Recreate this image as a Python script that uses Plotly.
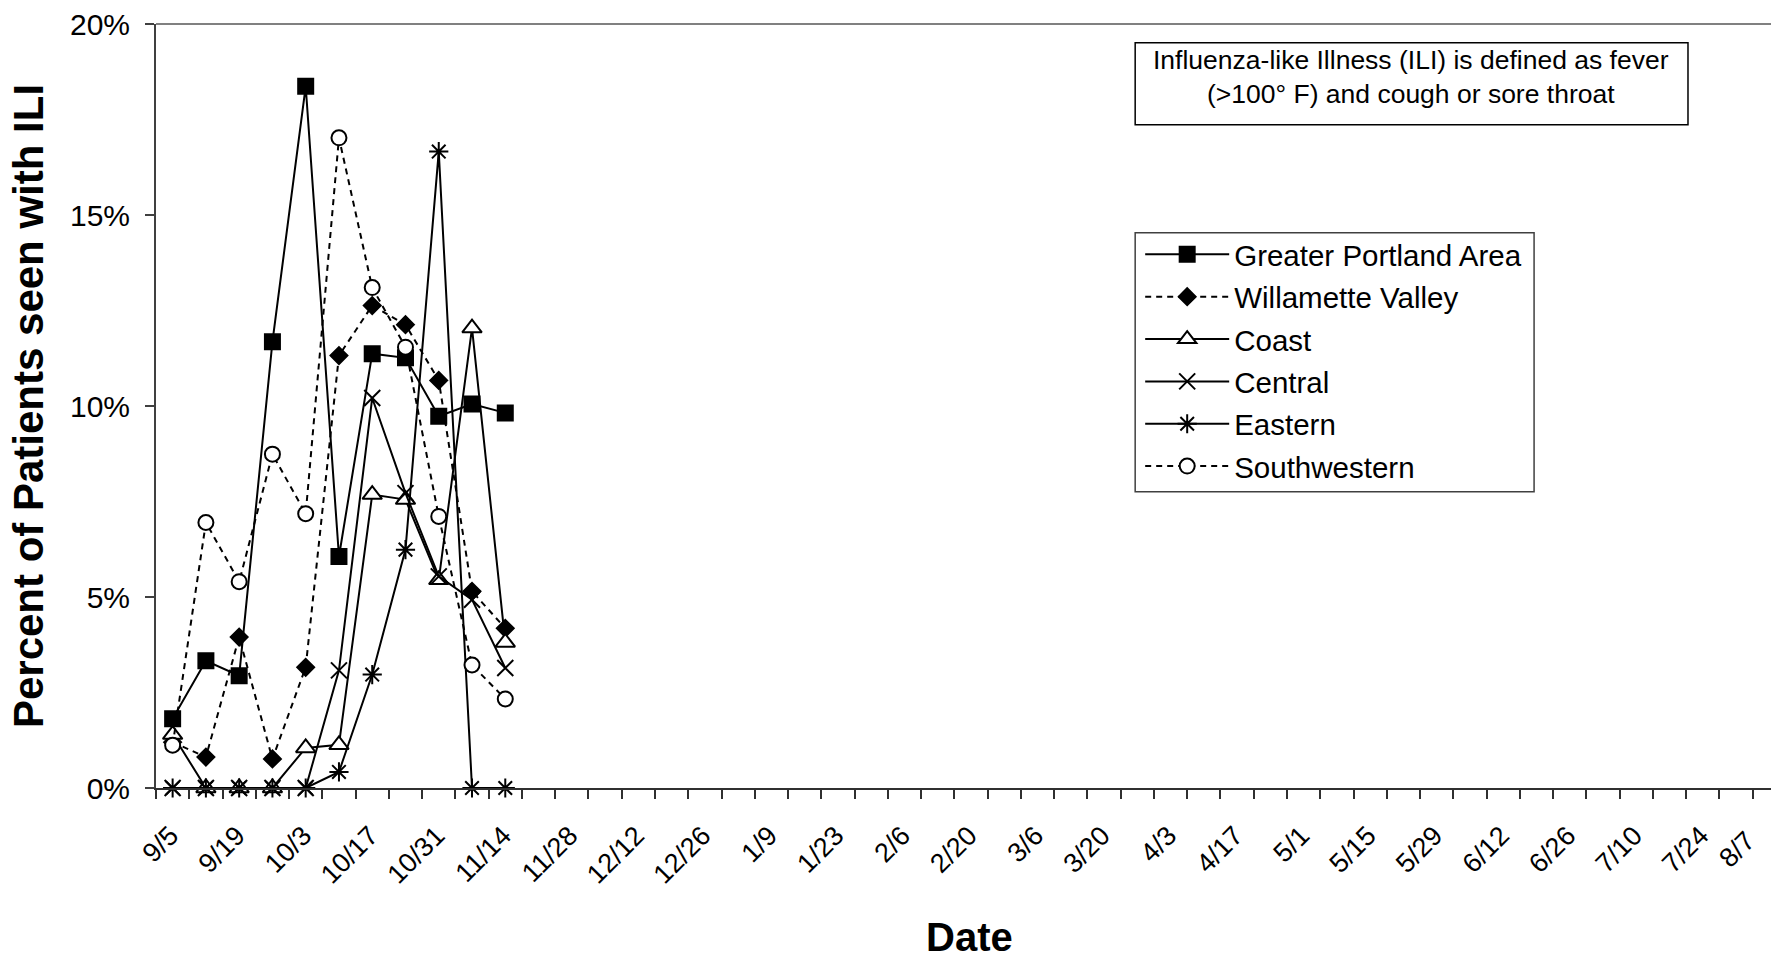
import plotly.graph_objects as go

# Weekly report dates (season axis) and observed values (% of patients with ILI)
weeks = ["9/5", "9/12", "9/19", "9/26", "10/3", "10/10", "10/17", "10/24", "10/31",
         "11/7", "11/14", "11/21", "11/28", "12/5", "12/12", "12/19", "12/26", "1/2",
         "1/9", "1/16", "1/23", "1/30", "2/6", "2/13", "2/20", "2/27", "3/6", "3/13",
         "3/20", "3/27", "4/3", "4/10", "4/17", "4/24", "5/1", "5/8", "5/15", "5/22",
         "5/29", "6/5", "6/12", "6/19", "6/26", "7/3", "7/10", "7/17", "7/24", "7/31",
         "8/7"]
tick_labels = weeks[::2]
y_ticks = [0, 5, 10, 15, 20]
y_tick_labels = ["0%", "5%", "10%", "15%", "20%"]

portland     = [1.81, 3.33, 2.94, 11.68, 18.37, 6.06, 11.37, 11.26, 9.73, 10.05, 9.82]
willamette   = [1.20, 0.81, 3.95, 0.76, 3.16, 11.32, 12.63, 12.13, 10.67, 5.15, 4.18]
coast        = [1.40, 0.00, 0.00, 0.00, 1.05, 1.13, 7.68, 7.55, 5.45, 12.04, 3.81]
central      = [0.00, 0.00, 0.00, 0.00, 0.00, 3.08, 10.21, 7.72, 5.54, 4.93, 3.14]
eastern      = [0.00, 0.00, 0.00, 0.00, 0.00, 0.42, 2.97, 6.24, 16.66, 0.00, 0.00]
southwestern = [1.12, 6.95, 5.40, 8.74, 7.18, 17.02, 13.10, 11.54, 7.11, 3.22, 2.33]

# name, values, symbol, fill, dash, size
series = [
    ("Greater Portland Area", portland, "square", "black", "solid", 15),
    ("Willamette Valley", willamette, "diamond", "black", "6px,5px", 13),
    ("Coast", coast, "triangle-up", "white", "solid", 17),
    ("Central", central, "x-thin-open", "black", "solid", 16),
    ("Eastern", eastern, "asterisk-open", "black", "solid", 16),
    ("Southwestern", southwestern, "circle", "white", "6px,5px", 15),
]

FONT = "Liberation Sans, Arial, sans-serif"

fig = go.Figure()
for name, vals, sym, fill, dash, size in series:
    xs = [weeks.index(w) for w in weeks[:len(vals)]]
    fig.add_trace(go.Scatter(
        x=xs, y=vals, name=name, legendgroup=name, mode="lines+markers",
        line=dict(color="black", width=2, dash=dash),
        marker=dict(symbol=sym, size=size, color=fill,
                    line=dict(color="black", width=2)),
        cliponaxis=False,
    ))

# the last date label is pulled inside the chart edge (as in the original), so it is
# drawn as a rotated label attached to its category on the x axis
x_tickvals = list(range(0, len(weeks), 2))
x_ticktext = tick_labels[:-1] + [""]

fig.update_layout(
    width=1771, height=964,
    margin=dict(l=156, r=0, t=24, b=176),
    paper_bgcolor="white", plot_bgcolor="white",
    font=dict(family=FONT, color="black", size=29),
    showlegend=True,
    legend=dict(
        x=0.6094, y=0.7321, xanchor="left", yanchor="top",
        borderwidth=0, bgcolor="rgba(0,0,0,0)",
        font=dict(family=FONT, size=29.5, color="black"),
        itemwidth=84, traceorder="grouped", tracegroupgap=1,
    ),
    xaxis=dict(
        range=[-0.5, 48.05], showgrid=False, zeroline=False, automargin=False,
        showline=True, linecolor="#303030", linewidth=2,
        tickmode="array", tickvals=x_tickvals, ticktext=x_ticktext,
        tickangle=-45, ticks="outside", ticklen=9, tickcolor="rgba(0,0,0,0)",
        ticklabeloverflow="allow", ticklabelshift=-2, ticklabelstandoff=10,
        tickfont=dict(family=FONT, size=27, color="black"),
        minor=dict(tickmode="linear", tick0=-0.5, dtick=1, ticks="outside",
                   ticklen=9, tickcolor="#303030", tickwidth=1.5, showgrid=False),
    ),
    yaxis=dict(
        range=[0, 20], showgrid=False, zeroline=False, automargin=False,
        showline=True, linecolor="#404040", linewidth=2,
        tickmode="array", tickvals=y_ticks, ticktext=y_tick_labels,
        ticks="outside", ticklen=9, tickcolor="#404040", tickwidth=1.5,
        ticklabelstandoff=9, ticklabeloverflow="allow",
        tickfont=dict(family=FONT, size=30, color="black"),
        title=dict(text="<b>Percent of Patients seen with ILI</b>",
                   font=dict(family=FONT, size=42, color="black"), standoff=13),
    ),
    shapes=[
        dict(type="line", xref="paper", yref="paper", x0=0, x1=1, y0=1, y1=1,
             line=dict(color="#808080", width=2)),
        # legend frame
        dict(type="rect", xref="paper", yref="paper", x0=0.6063, x1=0.8533, y0=0.3878, y1=0.7268,
             line=dict(color="#404040", width=1.5), fillcolor="white", layer="below"),
        # note frame
        dict(type="rect", xref="paper", yref="paper", x0=0.6063, x1=0.9486, y0=0.8682, y1=0.9755,
             line=dict(color="black", width=1.5), fillcolor="white", layer="below"),
    ],
    annotations=[
        dict(
            xref="paper", yref="paper", x=0.7771, y=0.931, xanchor="center", yanchor="middle",
            text="Influenza-like Illness (ILI) is defined as fever<br>(>100° F) and cough or sore throat",
            showarrow=False, align="center",
            font=dict(family=FONT, size=26.5, color="black"),
        ),
        dict(
            xref="x", yref="paper", x=weeks.index(tick_labels[-1]), y=0,
            xanchor="right", yanchor="top", xshift=-5, yshift=-34,
            text=tick_labels[-1], textangle=-45, showarrow=False,
            font=dict(family=FONT, size=27, color="black"),
        ),
        # x-axis title
        dict(
            xref="paper", yref="paper", x=0.5035, y=-0.1955, xanchor="center", yanchor="middle",
            text="<b>Date</b>", showarrow=False, height=36, borderpad=0, valign="middle",
            font=dict(family=FONT, size=40, color="black"),
        ),
    ],
)

# remove the default 8px page margin so the figure fills the window exactly
fig.write_html("out.html", post_script="document.body.style.margin='0';",
               config={"displayModeBar": False})
